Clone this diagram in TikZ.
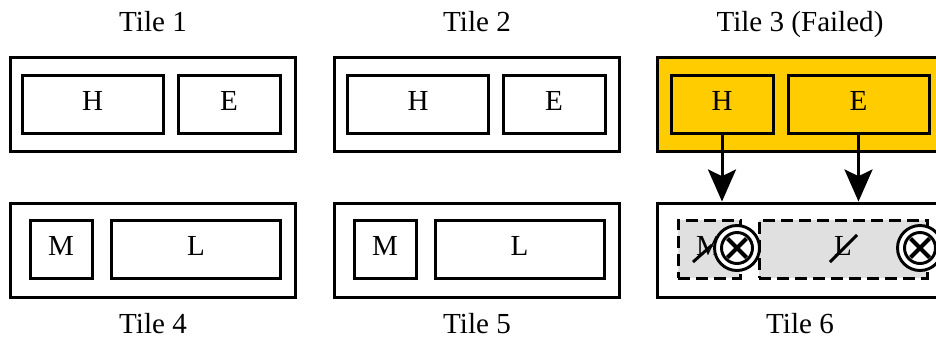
\documentclass[tikz,border=0pt]{standalone}
\usepackage{fontspec}
\setmainfont{Liberation Serif}
\usetikzlibrary{arrows.meta}
\definecolor{failyellow}{HTML}{FFCC00}
\definecolor{deadgray}{HTML}{E0E0E0}
\def\px{0.75pt}
\tikzset{>={Stealth[length=24pt,width=21pt,inset=5pt]}}
\tikzset{
  tile/.style={draw=black, line width=2.25pt, rectangle, minimum width=285*\px, minimum height=94*\px},
  slot/.style={draw=black, line width=2.25pt, rectangle, minimum height=58*\px, inner sep=0pt,
    font=\fontsize{21.8}{24}\selectfont, text height=14.4pt, text depth=5.25pt},
  deadslot/.style={slot, fill=deadgray, dashed, dash pattern=on 9pt off 4.5pt},
  title/.style={anchor=base, font=\fontsize{21.8}{24}\selectfont, inner sep=0pt},
  fuse/.style={circle, draw=black, fill=white, line width=2.2pt, minimum size=45*\px, inner sep=0pt},
  fusecore/.style={circle, draw=black, line width=2.2pt, minimum size=31*\px, inner sep=0pt,
    path picture={
      \draw[line width=3pt] ([shift={(-9.5,-9.5)}]path picture bounding box.center) -- ([shift={(9.5,9.5)}]path picture bounding box.center);
      \draw[line width=3pt] ([shift={(-9.5,9.5)}]path picture bounding box.center) -- ([shift={(9.5,-9.5)}]path picture bounding box.center);
    }},
  strike/.style={draw=black, line width=2.2pt}
}

\begin{document}
\begin{tikzpicture}[x=0.75pt, y=-0.75pt]
        % picture frame, the last column runs off the page
        \clip (0, 0) rectangle (936, 337);

        \node[title] (title1) at (153, 31) {Tile 1};
        \node[title] (title2) at (477, 31) {Tile 2};
        \node[title] (title3) at (800, 31) {Tile 3 (Failed)};

        \node[tile] (T1) at (152.5, 104) {};
        \node[slot, minimum width=141*\px] (H1) at (92.5, 104) {H};
        \node[slot, minimum width=102*\px] (E1) at (229, 104) {E};

        \node[tile] (T2) at (476.5, 104) {};
        \node[slot, minimum width=141*\px] (H2) at (418, 104) {H};
        \node[slot, minimum width=102*\px] (E2) at (554, 104) {E};

        \node[tile, fill=failyellow] (T3) at (799.5, 104) {};
        \node[slot, fill=failyellow, minimum width=102*\px] (H3) at (722, 104) {H};
        \node[slot, fill=failyellow, minimum width=141*\px] (E3) at (858.5, 104) {E};

        \node[tile] (T4) at (152.5, 250) {};
        \node[slot, minimum width=62*\px] (M4) at (61, 249) {M};
        \node[slot, minimum width=169*\px] (L4) at (196, 249) {L};

        \node[tile] (T5) at (476.5, 250) {};
        \node[slot, minimum width=62*\px] (M5) at (385, 249) {M};
        \node[slot, minimum width=169*\px] (L5) at (519.5, 249) {L};

        \node[tile] (T6) at (799.5, 250) {};
        \node[deadslot, minimum width=62*\px] (M6) at (709, 249) {M};
        \node[deadslot, minimum width=168*\px] (L6) at (843, 249) {L};

        \draw[strike] (M6.center) ++(-16, 13) -- ++(19, -17);
        \draw[strike] (L6.center) ++(-13, 13) -- ++(27, -27);

        \node[fuse] (F1) at (737, 248) {};
        \node[fusecore] (C1) at (F1) {};
        \node[fuse] (F2) at (920, 248) {};
        \node[fusecore] (C2) at (F2) {};

        \draw[->, line width=2.25pt] (H3.south) -- (H3.south |- T6.north);
        \draw[->, line width=2.25pt] (E3.south) -- (E3.south |- T6.north);

        \node[title] (title4) at (153, 333) {Tile 4};
        \node[title] (title5) at (477, 333) {Tile 5};
        \node[title] (title6) at (800, 333) {Tile 6};
\end{tikzpicture}
\end{document}
